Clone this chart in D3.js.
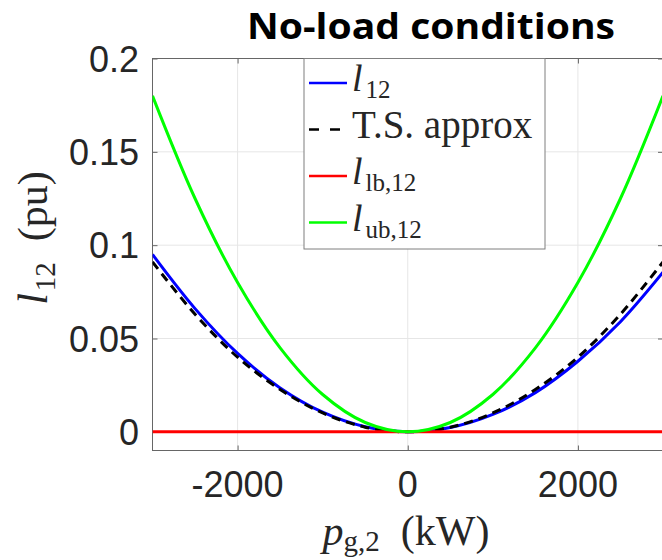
<!DOCTYPE html>
<html lang="en">
  <head>
    <meta charset="UTF-8" />
    <title>No-load conditions</title>
    <style>
      body { margin: 0; background: #fff; }
      .tick-label { font-family: 'Liberation Sans', Arial, sans-serif; font-size: 36px; fill: #262626; }
      .math { font-family: 'Liberation Serif', 'Times New Roman', serif; fill: #262626; }
    </style>
  </head>
  <body>
    <script src="https://cdn.jsdelivr.net/npm/d3@7"></script>
    <script>
      // Data
      const pg2 = [-3000, -2500, -2000, -1500, -1000, -500, 0, 500, 1000, 1500, 2000, 2500, 3000];
      const l12 = [0.095, 0.066, 0.042, 0.0235, 0.0105, 0.0027, 0, 0.0023, 0.0093, 0.021, 0.0378, 0.059, 0.0855];
      const tsApprox = [0.091, 0.063, 0.040, 0.0227, 0.0101, 0.0025, 0, 0.0025, 0.0101, 0.0227, 0.040, 0.063, 0.091];
      const lb12 = [0, 0, 0, 0, 0, 0, 0, 0, 0, 0, 0, 0, 0];
      const ub12 = [0.18, 0.125, 0.08, 0.045, 0.02, 0.005, 0, 0.005, 0.02, 0.045, 0.08, 0.125, 0.18];
      const xTicks = [-2000, 0, 2000];
      const yTicks = [0, 0.05, 0.1, 0.15, 0.2];
      const yTickLabels = ['0', '0.05', '0.1', '0.15', '0.2'];

      const width = 662;
      const height = 560;
      const plot = { left: 152.5, right: 663, top: 58.5, bottom: 450.5 };

      const svg = d3.select('body').append('svg')
        .attr('width', width).attr('height', height);

      const x = d3.scaleLinear().domain([-3000, 3000]).range([plot.left, plot.right]);
      const y = d3.scaleLinear().domain([-0.01, 0.2]).range([plot.bottom, plot.top]);

      // grid
      svg.append('g').selectAll('line').data(xTicks).enter().append('line')
        .attr('x1', d => x(d)).attr('x2', d => x(d))
        .attr('y1', plot.top).attr('y2', plot.bottom)
        .attr('stroke', '#e6e6e6').attr('stroke-width', 1);
      svg.append('g').selectAll('line').data(yTicks).enter().append('line')
        .attr('x1', plot.left).attr('x2', plot.right)
        .attr('y1', d => y(d)).attr('y2', d => y(d))
        .attr('stroke', '#e6e6e6').attr('stroke-width', 1);

      // axes (ticks inside, box on)
      const axisStyle = (g) => {
        g.select('.domain').remove();
        g.selectAll('.tick line').attr('stroke', '#666');
        g.selectAll('text').remove();
      };
      svg.append('g').attr('transform', `translate(0,${plot.bottom})`)
        .call(d3.axisTop(x).tickValues(xTicks).tickSize(5)).call(axisStyle);
      svg.append('g').attr('transform', `translate(0,${plot.top})`)
        .call(d3.axisBottom(x).tickValues(xTicks).tickSize(5)).call(axisStyle);
      svg.append('g').attr('transform', `translate(${plot.left},0)`)
        .call(d3.axisRight(y).tickValues(yTicks).tickSize(5)).call(axisStyle);
      svg.append('g').attr('transform', `translate(${plot.right},0)`)
        .call(d3.axisLeft(y).tickValues(yTicks).tickSize(5)).call(axisStyle);

      svg.append('rect')
        .attr('x', plot.left).attr('y', plot.top)
        .attr('width', plot.right - plot.left).attr('height', plot.bottom - plot.top)
        .attr('fill', 'none').attr('stroke', '#666').attr('stroke-width', 1);

      // tick labels
      svg.append('g').selectAll('text').data(xTicks).enter().append('text')
        .attr('class', 'tick-label')
        .attr('x', d => x(d)).attr('y', 497)
        .attr('text-anchor', 'middle')
        .text(d => d);
      svg.append('g').selectAll('text').data(yTicks).enter().append('text')
        .attr('class', 'tick-label')
        .attr('x', 139).attr('y', d => y(d) + 13)
        .attr('text-anchor', 'end')
        .text((d, i) => yTickLabels[i]);

      // curves
      svg.append('clipPath').attr('id', 'clip').append('rect')
        .attr('x', plot.left).attr('y', plot.top)
        .attr('width', plot.right - plot.left).attr('height', plot.bottom - plot.top);

      const series = [
        { name: 'l12', values: l12, color: '#0000ff', dash: null },
        { name: 'ts', values: tsApprox, color: '#000000', dash: '9,6' },
        { name: 'lb', values: lb12, color: '#ff0000', dash: null },
        { name: 'ub', values: ub12, color: '#00ff00', dash: null }
      ];

      const line = d3.line()
        .x((d, i) => x(pg2[i]))
        .y(d => y(d))
        .curve(d3.curveCatmullRom);

      svg.append('g').attr('clip-path', 'url(#clip)')
        .selectAll('path').data(series).enter().append('path')
        .attr('d', d => line(d.values))
        .attr('fill', 'none')
        .attr('stroke', d => d.color)
        .attr('stroke-width', 3)
        .attr('stroke-dasharray', d => d.dash);

      // legend
      const lg = svg.append('g');
      lg.append('rect')
        .attr('x', 304).attr('y', plot.top).attr('width', 241).attr('height', 190.5)
        .attr('fill', '#fff').attr('stroke', '#7f7f7f').attr('stroke-width', 1);

      const legendText = [
        { main: 'l', sub: '12', italic: true },
        { main: 'T.S. approx', sub: '', italic: false },
        { main: 'l', sub: 'lb,12', italic: true },
        { main: 'l', sub: 'ub,12', italic: true }
      ];

      series.forEach((s, i) => {
        const ry = plot.top + 24.5 + i * 46.5;
        lg.append('line')
          .attr('x1', 309).attr('x2', 347).attr('y1', ry).attr('y2', ry)
          .attr('stroke', s.color).attr('stroke-width', 2.5)
          .attr('stroke-dasharray', s.dash ? '10,11' : null);
        const lt = legendText[i];
        const t = lg.append('text').attr('class', 'math')
          .attr('x', 352).attr('y', ry + 8).attr('font-size', lt.sub ? 38 : 39);
        t.append('tspan').attr('font-style', lt.italic ? 'italic' : 'normal').text(lt.main);
        if (lt.sub) {
          t.append('tspan').attr('font-size', 25).attr('dx', 3).attr('dy', 7).text(lt.sub);
        }
      });

      // axis labels
      const xl = svg.append('text').attr('class', 'math')
        .attr('x', 406).attr('y', 545).attr('text-anchor', 'middle').attr('font-size', 42);
      xl.append('tspan').attr('font-style', 'italic').text('p');
      xl.append('tspan').attr('font-size', 29).attr('dy', 6).text('g,2');
      xl.append('tspan').attr('dy', -6).text('\u2002(kW)');

      const yl = svg.append('text').attr('class', 'math')
        .attr('transform', 'translate(47,238) rotate(-90)')
        .attr('text-anchor', 'middle').attr('font-size', 42);
      yl.append('tspan').attr('font-style', 'italic').text('l');
      yl.append('tspan').attr('font-size', 29).attr('dx', 2).attr('dy', 8).text('12');
      yl.append('tspan').attr('dy', -8).text('\u2002(pu)');

      // title
      svg.append('text')
        .attr('x', 431).attr('y', 39)
        .attr('text-anchor', 'middle')
        .attr('font-family', "'Open Sans', sans-serif")
        .attr('font-weight', 'bold').attr('font-size', 36)
        .attr('textLength', 368).attr('lengthAdjust', 'spacingAndGlyphs')
        .text('No-load conditions');
    </script>
  </body>
</html>
